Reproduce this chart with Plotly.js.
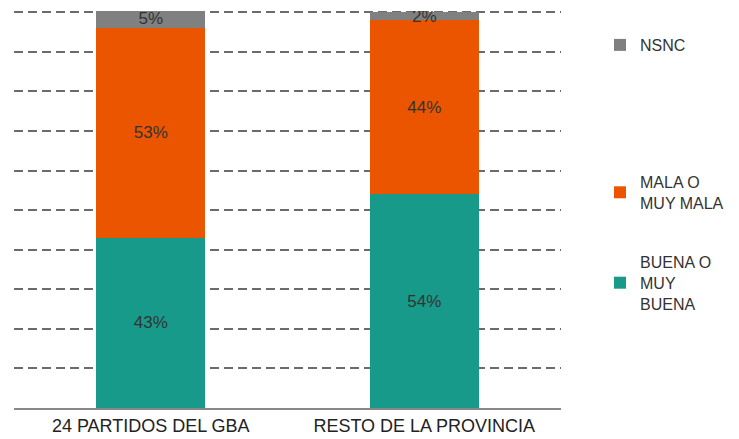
<!DOCTYPE html>
<html>
<head>
<meta charset="utf-8">
<script src="https://cdn.plot.ly/plotly-3.0.1.min.js"></script>
<style>html,body{margin:0;padding:0;background:#fff;}#chart{width:739px;height:439px;}</style>
</head>
<body>
<div id="chart"></div>
<script>
const categories = ["24 PARTIDOS DEL GBA", "RESTO DE LA PROVINCIA"];
const buena = [43, 54];
const mala = [53, 44];
const nsnc = [5, 2];
const seriesNames = ["BUENA O<br>MUY<br>BUENA", "MALA O<br>MUY MALA", "NSNC"];
const colors = ["#189A8A", "#EB5500", "#808080"];

const FONT = "Liberation Sans, Arial, sans-serif";
function mk(vals, i, legendId) {
  return {
    type: "bar", x: categories, y: vals, name: seriesNames[i],
    marker: {color: colors[i], line: {width: 0}},
    text: vals.map(v => v + "%"), textposition: "inside",
    insidetextanchor: "middle", constraintext: "none",
    textfont: {family: FONT, size: 17, color: "#333333"},
    hoverinfo: "skip", legend: legendId
  };
}
const data = [mk(buena, 0, "legend3"), mk(mala, 1, "legend2"), mk(nsnc, 2, "legend")];

const L = 14, R = 177, W = 739 - L - R;
function px(x) { return (x - L) / W; }
const legBase = {xanchor: "left", yanchor: "top", bgcolor: "rgba(0,0,0,0)",
  font: {family: FONT, size: 16, color: "#333333"}, itemwidth: 30, borderwidth: 0};
const layout = {
  width: 739, height: 439,
  margin: {l: L, r: R, t: 11, b: 31},
  paper_bgcolor: "#fff", plot_bgcolor: "#fff",
  barmode: "stack", bargap: 0.6,
  font: {family: FONT, size: 16, color: "#333333"},
  xaxis: {showgrid: false, showline: true, linecolor: "#888888", linewidth: 2,
    ticks: "", tickfont: {family: FONT, size: 18, color: "#222222"}, range: [-0.5, 1.5]},
  yaxis: {range: [0, 100.3], tickvals: [10, 20, 30, 40, 50, 60, 70, 80, 90, 100],
    showticklabels: false, showgrid: true,
    gridcolor: "#6b6b6b", gridwidth: 2, griddash: "9px,5px", zeroline: false, ticks: ""},
  legend: Object.assign({}, legBase, {x: px(600), y: 1 - (28 - 11) / 397}),
  legend2: Object.assign({}, legBase, {x: px(600), y: 1 - (165 - 11) / 397}),
  legend3: Object.assign({}, legBase, {x: px(600), y: 1 - (245 - 11) / 397}),
  showlegend: true
};
Plotly.newPlot("chart", data, layout, {displayModeBar: false, staticPlot: true});
</script>
</body>
</html>
